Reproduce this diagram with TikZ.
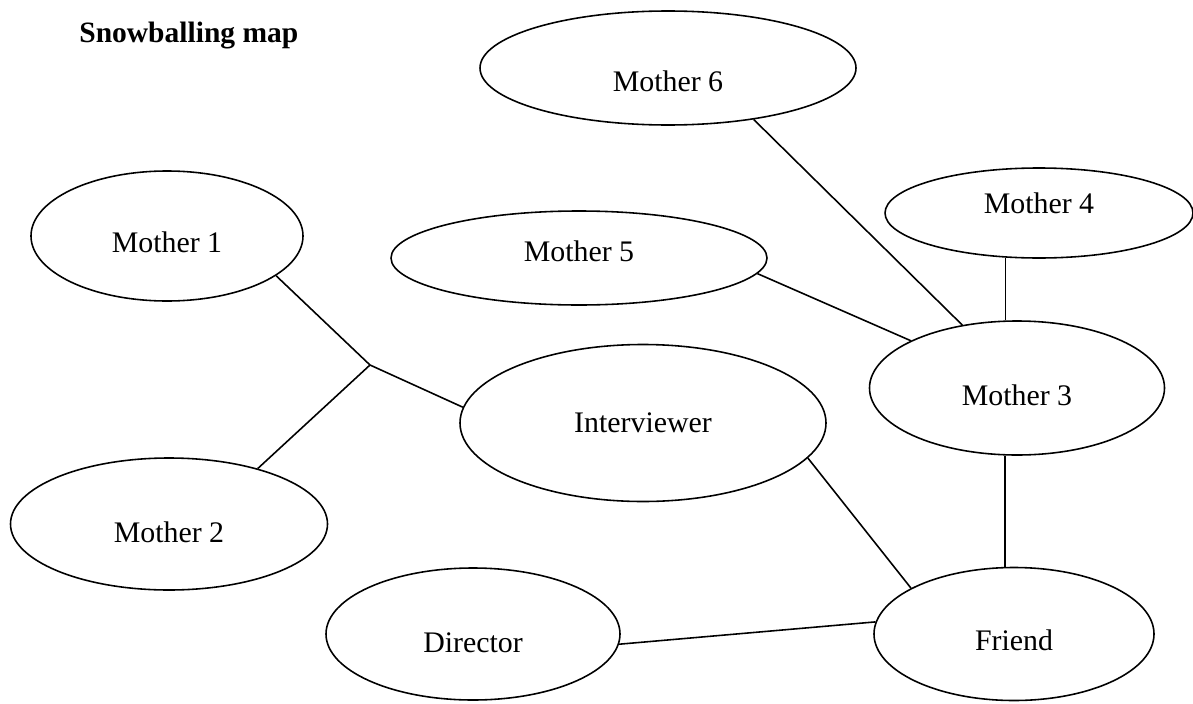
\documentclass[tikz,border=0pt]{standalone}
\usepackage{fontspec}
\setmainfont{Liberation Serif}
\usetikzlibrary{shapes.geometric}
\newcommand{\Label}{\fontsize{17}{20}\selectfont}
\tikzset{
  oval/.style 2 args={draw, ellipse, line width=0.9pt, inner sep=0pt,
               minimum width=#1*0.02cm, minimum height=#2*0.02cm, font=\Label},
  tie/.style={line width=0.9pt},
}

\begin{document}
\begin{tikzpicture}[x=0.02cm, y=-0.02cm]
  \useasboundingbox (0,0) rectangle (1193,703);
  \node[anchor=base west, inner sep=0pt, font=\bfseries\fontsize{16.8}{20}\selectfont] (title) at (79,42) {Snowballing map};
  % the people
  \node[oval={376}{114}, text height=27pt] (m6) at (668,68) {Mother 6};
  \node[oval={308}{90}, text depth=11pt] (m4) at (1039,213) {Mother 4};
  \node[oval={272}{130}, text height=19pt] (m1) at (167,236) {Mother 1};
  \node[oval={376}{94}, text depth=8pt] (m5) at (579,258) {Mother 5};
  \node[oval={295}{134}, text height=20pt] (m3) at (1017,388) {Mother 3};
  \node[oval={366}{157}] (iv) at (643,423) {Interviewer};
  \node[oval={317}{132}, text height=20.8pt] (m2) at (169,524) {Mother 2};
  \node[oval={294}{132}, text height=20.8pt] (dir) at (473,634) {Director};
  \node[oval={280}{133}, text height=18.4pt] (fr) at (1014,634) {Friend};
  \coordinate (hub) at (370,365);
  % who led to whom
  \draw[tie] (m1.-20) -- (hub);
  \draw[tie] (m2.32) -- (hub);
  \draw[tie] (hub) -- (iv.175);
  \draw[tie] (m6.-31) -- (m3.131);
  \draw[tie] (m5.-5) -- (m3.156);
  \draw[tie] (m4.233) -- (m4.233 |- m3.north);
  \draw[tie] (m3.260) -- (m3.260 |- fr.north);
  \draw[tie] (iv.-12) -- (fr.156);
  \draw[tie] (dir.-4) -- (fr.175);
\end{tikzpicture}
\end{document}
